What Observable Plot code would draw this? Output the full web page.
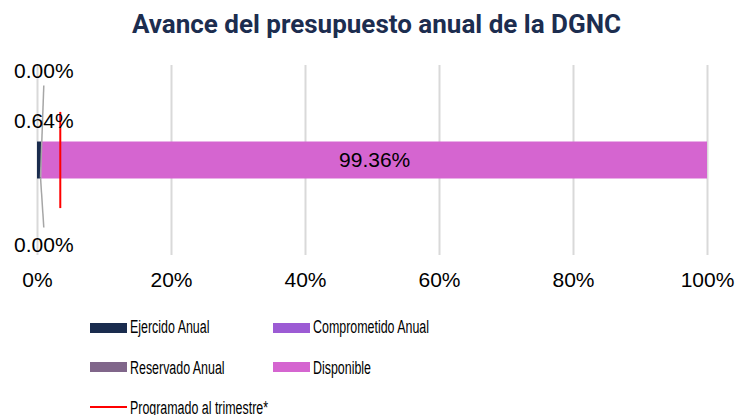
<!DOCTYPE html>
<html><head><meta charset="utf-8">
<script src="https://cdn.jsdelivr.net/npm/d3@7"></script>
<script src="https://cdn.jsdelivr.net/npm/@observablehq/plot@0.6"></script>
<style>
html,body{margin:0;padding:0;background:#fff;}
#wrap{position:relative;width:738px;height:415px;overflow:hidden;font-family:"Liberation Sans",Arial,sans-serif;}
#title{position:absolute;left:15px;right:0;top:9px;text-align:center;font:bold 26px/30px Roboto,sans-serif;color:#1c2d4f;white-space:nowrap;}
#chart{position:absolute;left:0;top:50px;}
.sw{position:absolute;}
.lt{position:absolute;white-space:nowrap;font-size:18px;line-height:20px;transform:scaleX(0.69);transform-origin:0 0;color:#000;}
</style></head>
<body><div id="wrap"><div id="title"></div><div id="chart"></div><div id="legend"></div></div>
<script>
const title = "Avance del presupuesto anual de la DGNC";
const series = ["Ejercido Anual", "Comprometido Anual", "Reservado Anual", "Disponible"];
const values = [0.64, 0.00, 0.00, 99.36];
const colors = ["#1a2c4e", "#9c5bd4", "#80668a", "#d565d0"];
const programado = 3.4;
const programadoLabel = "Programado al trimestre*";
const programadoColor = "#ff0000";
const xTicks = [0, 20, 40, 60, 80, 100];

document.getElementById("title").textContent = title;

const ends = d3.cumsum(values);
const rows = series.map((s, i) => ({serie: s, valor: values[i], x1: ends[i] - values[i], x2: ends[i], mid: ends[i] - values[i] / 2}));
const fmt = v => v.toFixed(2) + "%";

// outside labels for the three small segments (Ejercido, Comprometido, Reservado)
const outside = rows.slice(0, 3);
const outsideY = [1.05, 2.41, -2.30];

const plot = Plot.plot({
  width: 738, height: 250,
  marginLeft: 37, marginRight: 31, marginTop: 15, marginBottom: 45,
  style: {fontFamily: "'Liberation Sans', Arial, sans-serif", fontSize: "21px", color: "#000", background: "#fff"},
  x: {domain: [0, 100]},
  y: {domain: [-2.568, 2.568], axis: null},
  color: {domain: series, range: colors},
  marks: [
    Plot.gridX(xTicks, {stroke: "#d9d9d9", strokeOpacity: 1, strokeWidth: 2}),
    Plot.axisX(xTicks, {tickSize: 0, tickPadding: 17, tickFormat: d => d + "%", fontSize: 21, fill: "#000"}),
    Plot.rect(rows, {x1: "x1", x2: "x2", y1: -0.5, y2: 0.5, fill: "serie"}),
    Plot.link([outside[1]], {x1: d => d.x2 + 0.94 - 0.64, y1: 2.03, x2: d => d.x2 - 0.19, y2: -0.46, stroke: "#a6a6a6", strokeWidth: 1.5}),
    Plot.link([outside[2]], {x1: d => d.x2 - 0.19, y1: -0.46, x2: d => d.x2 + 0.94 - 0.64, y2: -1.81, stroke: "#a6a6a6", strokeWidth: 1.5}),
    Plot.ruleX([programado], {y1: -1.3, y2: 1.3, stroke: programadoColor, strokeWidth: 2}),
    Plot.text(outside, {x: d => ends[0], y: (d, i) => outsideY[i], dx: 2, text: d => fmt(d.valor), fontSize: 21, fill: "#000"}),
    Plot.text([rows[3]], {x: "mid", y: 0, text: d => fmt(d.valor), fontSize: 21, fill: "#000"})
  ]
});
document.getElementById("chart").appendChild(plot);

// legend
const legend = document.getElementById("legend");
const items = series.map((s, i) => ({label: s, color: colors[i], type: "rect"}));
items.push({label: programadoLabel, color: programadoColor, type: "line"});
items.forEach((it, i) => {
  const col = i % 2, row = Math.floor(i / 2);
  const sx = col ? 273 : 90, tx = col ? 313 : 130;
  const sw = document.createElement("div");
  sw.className = "sw";
  sw.style.left = sx + "px";
  sw.style.width = "37px";
  sw.style.background = it.color;
  if (it.type === "rect") { sw.style.top = (323 + row * 39.3) + "px"; sw.style.height = "10px"; }
  else { sw.style.top = (406 ) + "px"; sw.style.height = "2px"; }
  legend.appendChild(sw);
  const t = document.createElement("div");
  t.className = "lt";
  t.style.left = tx + "px";
  t.style.top = (317 + row * 40.5) + "px";
  t.textContent = it.label;
  legend.appendChild(t);
});
</script>
</body></html>
